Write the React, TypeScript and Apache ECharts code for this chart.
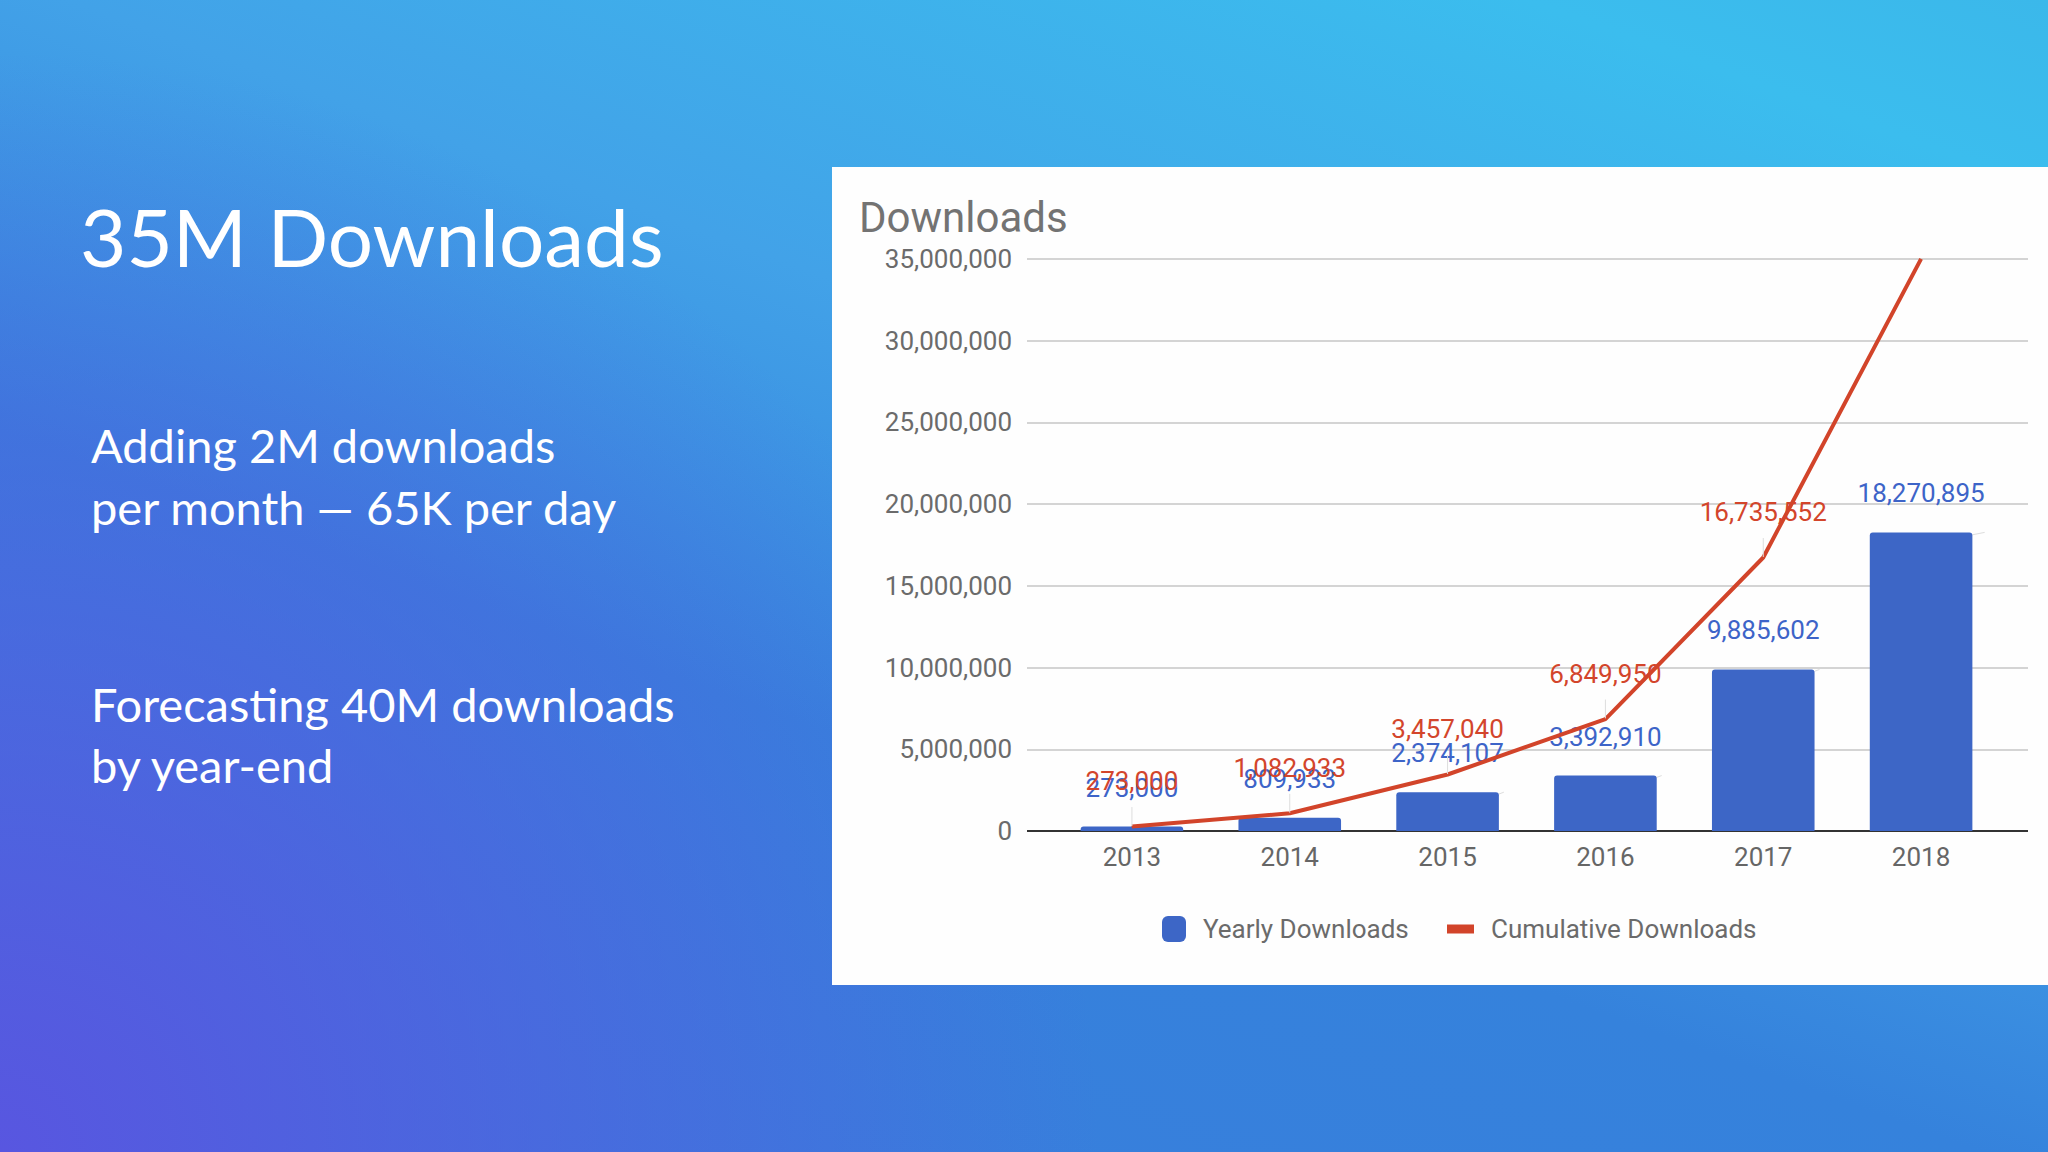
import React, { useEffect, useRef } from "react";
import * as echarts from "echarts";

const years = ["2013", "2014", "2015", "2016", "2017", "2018"];
const yearlyDownloads = [273000, 809933, 2374107, 3392910, 9885602, 18270895];
const cumulativeDownloads = [273000, 1082933, 3457040, 6849950, 16735552, 35006447];
const cumulativeLabelShown = [true, true, true, true, true, false];
const yTicks = { min: 0, max: 35000000, interval: 5000000 };

const headline = "35M Downloads";
const bulletLines = [
  "Adding 2M downloads",
  "per month — 65K per day",
  "Forecasting 40M downloads",
  "by year-end",
];

const fmt = (v: number) => v.toLocaleString("en-US");

export default function App() {
  const ref = useRef<HTMLDivElement>(null);
  useEffect(() => {
    if (!ref.current) return;
    const chart = echarts.init(ref.current, null, { renderer: "svg" });
    const font = "Roboto";
    const lineY = [445, 507, 704, 765];
    chart.setOption({
      animation: false,
      backgroundColor: "transparent",
      title: {
        text: "Downloads",
        left: 859,
        top: 196,
        padding: 0,
        textStyle: { fontFamily: font, fontSize: 42, fontWeight: "normal", color: "#737373" },
      },
      graphic: [
        {
          type: "rect",
          z: -10,
          shape: { x: 832, y: 167, width: 1216, height: 818 },
          style: { fill: "#fefefe" },
          silent: true,
        },
        {
          type: "text",
          x: 80,
          y: 236,
          style: {
            text: headline,
            font: "400 80px Lato",
            fill: "#ffffff",
            textVerticalAlign: "middle",
          },
        },
        ...bulletLines.map((t, i) => ({
          type: "text",
          x: 91,
          y: lineY[i],
          style: {
            text: t,
            font: "400 47px Lato",
            fill: "#ffffff",
            textVerticalAlign: "middle",
          },
        })),
      ],
      legend: [
        {
          left: 1162,
          top: 916,
          padding: 0,
          itemWidth: 24,
          itemHeight: 26,
          icon: "roundRect",
          data: [{ name: "Yearly Downloads" }],
          textStyle: { fontFamily: font, fontSize: 26, color: "#6b6b6b", padding: [0, 0, 0, 12] },
          selectedMode: false,
        },
        {
          left: 1447,
          top: 916,
          padding: 0,
          itemWidth: 27,
          itemHeight: 9,
          icon: "rect",
          data: [{ name: "Cumulative Downloads" }],
          textStyle: { fontFamily: font, fontSize: 26, color: "#6b6b6b", padding: [0, 0, 0, 12] },
          selectedMode: false,
        },
      ],
      grid: [
        { left: 1027, right: 20, top: 259, bottom: 321 },
        { left: 1053, right: 48, top: 259, bottom: 321 },
      ],
      xAxis: [
        { type: "value", gridIndex: 0, show: false, min: 0, max: 1 },
        {
          type: "category",
          gridIndex: 1,
          data: years,
          axisLine: { show: false },
          axisTick: { show: false },
          axisLabel: { fontFamily: font, fontSize: 26, color: "#666666", margin: 13 },
        },
      ],
      yAxis: [
        {
          type: "value",
          gridIndex: 0,
          min: yTicks.min,
          max: yTicks.max,
          interval: yTicks.interval,
          axisLine: { show: false },
          axisTick: { show: false },
          axisLabel: {
            fontFamily: font,
            fontSize: 26,
            color: "#6b6b6b",
            margin: 15,
            formatter: (v: number) => fmt(v),
          },
          splitLine: {
            show: true,
            lineStyle: {
              width: 2,
              color: ["#333333", "#d4d4d4", "#d4d4d4", "#d4d4d4", "#d4d4d4", "#d4d4d4", "#d4d4d4", "#d4d4d4"],
            },
          },
        },
        {
          type: "value",
          gridIndex: 1,
          min: yTicks.min,
          max: yTicks.max,
          interval: yTicks.interval,
          show: false,
          splitLine: { show: false },
        },
      ],
      series: [
        {
          name: "Yearly Downloads",
          type: "bar",
          xAxisIndex: 1,
          yAxisIndex: 1,
          data: yearlyDownloads,
          barWidth: "65%",
          itemStyle: { color: "#3d66c6", borderRadius: [3, 3, 0, 0] },
          label: {
            show: true,
            position: "top",
            distance: 26,
            fontFamily: font,
            fontSize: 26,
            color: "#3d64c8",
            formatter: (p: any) => fmt(p.value),
          },
          labelLine: { show: true, lineStyle: { color: "#dddddd", width: 1 } },
          z: 2,
        },
        {
          name: "Cumulative Downloads",
          type: "line",
          xAxisIndex: 1,
          yAxisIndex: 1,
          data: cumulativeDownloads.map((v, i) => ({
            value: v,
            label: { show: cumulativeLabelShown[i] },
          })),
          symbol: "circle",
          symbolSize: 1,
          showSymbol: true,
          lineStyle: { color: "#d2442a", width: 4 },
          itemStyle: { color: "#d2442a" },
          label: {
            show: true,
            position: "top",
            distance: 32,
            fontFamily: font,
            fontSize: 26,
            color: "#d3452b",
            formatter: (p: any) => fmt(p.value),
          },
          labelLine: { show: true, lineStyle: { color: "#dddddd", width: 1 } },
          z: 3,
        },
      ],
    });
    return () => chart.dispose();
  }, []);
  return (
    <div
      style={{
        position: "absolute",
        left: 0,
        top: 0,
        width: 2048,
        height: 1152,
        background:
          "radial-gradient(circle 1100px at 0% 100%, rgba(88,86,224,1) 0%, rgba(88,86,224,0.55) 45%, rgba(88,86,224,0) 100%), linear-gradient(20deg, #3a7cdc 0%, #3582dc 38%, #42a2e8 62%, #3bbdee 90%, #3bb8ea 100%)",
      }}
    >
      <div ref={ref} style={{ width: 2048, height: 1152 }} />
    </div>
  );
}
